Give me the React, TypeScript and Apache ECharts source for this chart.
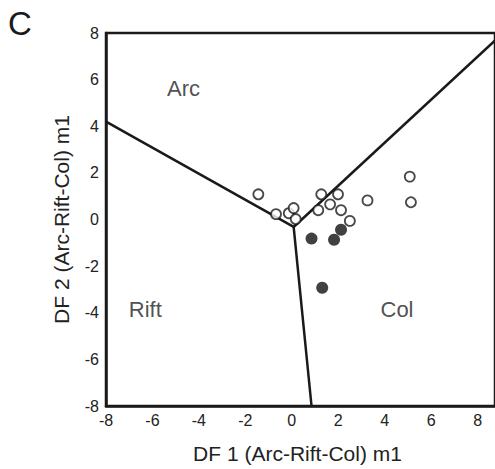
import React, { useEffect, useRef } from "react";
import * as echarts from "echarts";

const openPoints: [number, number][] = [
  [-1.44, 1.08], [-0.68, 0.23], [-0.13, 0.27], [0.08, 0.49], [0.17, 0.02],
  [1.27, 1.08], [1.99, 1.08], [1.65, 0.65], [1.14, 0.4], [2.12, 0.4],
  [2.5, -0.06], [3.26, 0.82], [5.08, 1.84], [5.13, 0.74],
];
const filledPoints: [number, number][] = [
  [0.85, -0.82], [1.82, -0.87], [2.12, -0.44], [1.31, -2.93],
];
const center: [number, number] = [0.08, -0.32];
const arcRiftEnd: [number, number] = [-8, 4.2];
const arcColEnd: [number, number] = [9.1, 8];
const riftColEnd: [number, number] = [0.85, -8];
const regionLabels: { name: string; value: [number, number] }[] = [
  { name: "Arc", value: [-4.66, 5.64] },
  { name: "Rift", value: [-6.31, -3.86] },
  { name: "Col", value: [4.53, -3.86] },
];
const xMin = -8;
const xMax = 8.75;
const yMin = -8;
const yMax = 8;
const axisInterval = 2;

const FONT = "Liberation Sans, Arial, Helvetica, sans-serif";

export default function App() {
  const ref = useRef<HTMLDivElement>(null);
  useEffect(() => {
    if (!ref.current) return;
    document.body.style.margin = "0";
    const chart = echarts.init(ref.current, undefined, { renderer: "svg" });
    const lineStyle = { color: "#1a1a1a", width: 2.5 };
    const boundary = (end: [number, number]) => ({
      type: "line",
      data: [center, end],
      symbol: "none",
      lineStyle,
      silent: true,
      z: 1,
    });
    chart.setOption({
      animation: false,
      backgroundColor: "#fff",
      textStyle: { fontFamily: FONT },
      grid: { left: 106, top: 33, width: 395, height: 379, show: true, borderColor: "#1a1a1a", borderWidth: 2.5, backgroundColor: "transparent" },
      graphic: [
        { type: "text", left: 8, top: 7, style: { text: "C", fontSize: 33, fontFamily: FONT, fill: "#1a1a1a" } },
      ],
      xAxis: {
        type: "value",
        min: xMin,
        max: xMax,
        interval: axisInterval,
        splitLine: { show: false },
        axisLine: { show: true, onZero: false, lineStyle: { color: "#1a1a1a", width: 2.5 } },
        axisTick: { show: false },
        axisLabel: { color: "#222", fontSize: 16, fontFamily: FONT, margin: 6, showMaxLabel: false },
        name: "DF 1 (Arc-Rift-Col) m1",
        nameLocation: "middle",
        nameGap: 37,
        nameTextStyle: { color: "#222", fontSize: 21, fontFamily: FONT, padding: [0, 0, 0, -6] },
      },
      yAxis: {
        type: "value",
        min: yMin,
        max: yMax,
        interval: axisInterval,
        splitLine: { show: false },
        axisLine: { show: true, onZero: false, lineStyle: { color: "#1a1a1a", width: 2.5 } },
        axisTick: { show: false },
        axisLabel: { color: "#222", fontSize: 16, fontFamily: FONT, margin: 7 },
        name: "DF 2 (Arc-Rift-Col) m1",
        nameLocation: "middle",
        nameGap: 34,
        nameTextStyle: { color: "#222", fontSize: 21, fontFamily: FONT },
      },
      series: [
        boundary(arcRiftEnd),
        boundary(arcColEnd),
        boundary(riftColEnd),
        {
          type: "scatter",
          data: openPoints,
          symbol: "circle",
          symbolSize: 10,
          itemStyle: { color: "#fff", borderColor: "#1a1a1a", borderWidth: 1.8 },
          z: 3,
        },
        {
          type: "scatter",
          data: filledPoints,
          symbol: "circle",
          symbolSize: 12,
          itemStyle: { color: "#111", borderColor: "#111", borderWidth: 0 },
          z: 3,
        },
        {
          type: "scatter",
          data: regionLabels,
          symbolSize: 0,
          silent: true,
          label: {
            show: true,
            position: "inside",
            formatter: (p: any) => p.name,
            fontSize: 22,
            fontFamily: FONT,
            color: "#222",
          },
        },
      ],
    });
    return () => chart.dispose();
  }, []);
  return <div ref={ref} style={{ width: 495, height: 469 }} />;
}
